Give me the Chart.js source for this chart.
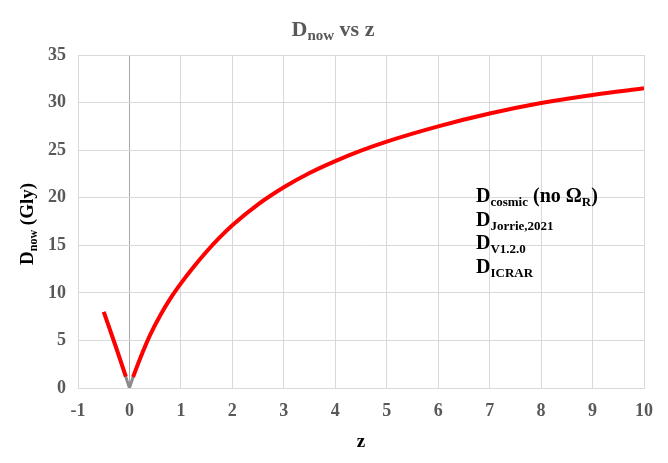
<!DOCTYPE html>
<html>
<head>
<meta charset="utf-8">
<script src="https://cdn.jsdelivr.net/npm/chart.js@4.4.1/dist/chart.umd.min.js"></script>
<style>
  html, body { margin: 0; padding: 0; background: #ffffff; }
  #wrap { width: 668px; height: 463px; position: relative; }
</style>
</head>
<body>
<div id="wrap"><canvas id="dnowChart" width="668" height="463"></canvas></div>
<script>
// Red curve: D_now (Gly) vs redshift z (null = small gap at the origin)
const redZ = [-0.5, -0.25, -0.07, 0, 0.07, 0.2, 0.4, 0.6, 0.8, 1, 1.25, 1.5, 1.75, 2, 2.5, 3, 3.5, 4, 4.5, 5, 6, 7, 8, 9, 10];
const redD = [8.0, 4.1, 1.2, null, 1.15, 3.0, 5.55, 7.65, 9.45, 11.0, 12.75, 14.35, 15.8, 17.1, 19.3, 21.1, 22.6, 23.85, 24.95, 25.9, 27.5, 28.85, 29.95, 30.8, 31.5];
// Grey curve underneath, only visible near z = 0
const greyZ = [-0.5, -0.25, 0, 0.07, 0.2];
const greyD = [8.0, 4.1, 0, 1.15, 3.0];
// Axis ticks
const xTicks = [-1, 0, 1, 2, 3, 4, 5, 6, 7, 8, 9, 10];
const yTicks = [0, 5, 10, 15, 20, 25, 30, 35];

const SERIF = '"Liberation Serif", "Times New Roman", serif';

function toPoints(xs, ys) {
    return xs.map(function(x, i) { return { x: x, y: ys[i] }; });
}

// draw text made of runs (normal + subscript)
function drawRuns(ctx, runs, x, y, align) {
    let total = 0;
    runs.forEach(function(r) {
        ctx.font = 'bold ' + r.size + 'px ' + SERIF;
        r.w = ctx.measureText(r.t).width;
        total += r.w;
    });
    let cx = align === 'center' ? x - total / 2 : x;
    runs.forEach(function(r) {
        ctx.font = 'bold ' + r.size + 'px ' + SERIF;
        ctx.fillText(r.t, cx, y + (r.dy || 0));
        cx += r.w;
    });
}

const textPlugin = {
    id: 'textPlugin',
    afterDraw: function(chart) {
        const ctx = chart.ctx;
        ctx.save();
        ctx.textAlign = 'left';
        ctx.textBaseline = 'alphabetic';

        // title
        ctx.fillStyle = '#595959';
        drawRuns(ctx, [
            { t: 'D', size: 22 },
            { t: 'now', size: 15, dy: 4 },
            { t: ' vs z', size: 22 }
        ], 333, 36, 'center');

        // y axis title, rotated
        ctx.fillStyle = '#000000';
        ctx.save();
        ctx.translate(33, 224);
        ctx.rotate(-Math.PI / 2);
        drawRuns(ctx, [
            { t: 'D', size: 19 },
            { t: 'now', size: 12, dy: 4 },
            { t: ' (Gly)', size: 19 }
        ], 0, 0, 'center');
        ctx.restore();

        // legend text box
        const lx = 476;
        const lines = [
            [{ t: 'D', size: 20 }, { t: 'cosmic', size: 13, dy: 4 }, { t: ' (no Ω', size: 20 }, { t: 'R', size: 13, dy: 4 }, { t: ')', size: 20 }],
            [{ t: 'D', size: 20 }, { t: 'Jorrie,2021', size: 13, dy: 4 }],
            [{ t: 'D', size: 20 }, { t: 'V1.2.0', size: 13, dy: 4 }],
            [{ t: 'D', size: 20 }, { t: 'ICRAR', size: 13, dy: 4 }]
        ];
        lines.forEach(function(runs, i) {
            drawRuns(ctx, runs, lx, 202 + i * 23.7, 'left');
        });
        ctx.restore();
    }
};

document.addEventListener('DOMContentLoaded', function() {
    const ctx = document.getElementById('dnowChart').getContext('2d');

    new Chart(ctx, {
        type: 'line',
        data: {
            datasets: [
                {
                    label: 'D_cosmic',
                    data: toPoints(redZ, redD),
                    borderColor: '#ff0000',
                    borderWidth: 4,
                    pointRadius: 0,
                    cubicInterpolationMode: 'monotone',
                    spanGaps: false,
                    order: 1
                },
                {
                    label: 'D_ICRAR',
                    data: toPoints(greyZ, greyD),
                    borderColor: '#8c8c8c',
                    borderWidth: 3,
                    pointRadius: 0,
                    order: 2
                }
            ]
        },
        options: {
            responsive: false,
            animation: false,
            layout: { padding: { top: 55, right: 24, left: 0, bottom: 0 } },
            plugins: {
                legend: { display: false },
                tooltip: { enabled: false },
                title: { display: false }
            },
            scales: {
                x: {
                    type: 'linear',
                    min: -1,
                    max: 10,
                    afterBuildTicks: function(scale) {
                        scale.ticks = xTicks.map(function(v) { return { value: v }; });
                    },
                    afterFit: function(scale) { scale.height = 75; },
                    grid: {
                        color: function(c) { return c.tick && c.tick.value === 0 ? '#a6a6a6' : '#d9d9d9'; },
                        lineWidth: 1,
                        drawTicks: false
                    },
                    border: { color: '#d9d9d9' },
                    ticks: {
                        color: '#595959',
                        padding: 13,
                        font: { family: SERIF, size: 18, weight: 'bold' }
                    },
                    title: {
                        display: true,
                        text: 'z',
                        color: '#000000',
                        padding: { top: 0, bottom: 10 },
                        font: { family: SERIF, size: 19, weight: 'bold' }
                    }
                },
                y: {
                    min: 0,
                    max: 35,
                    afterBuildTicks: function(scale) {
                        scale.ticks = yTicks.map(function(v) { return { value: v }; });
                    },
                    afterFit: function(scale) { scale.width = 78; },
                    grid: { color: '#d9d9d9', lineWidth: 1, drawTicks: false },
                    border: { color: '#d9d9d9' },
                    ticks: {
                        color: '#595959',
                        padding: 12,
                        font: { family: SERIF, size: 18, weight: 'bold' }
                    }
                }
            }
        },
        plugins: [textPlugin]
    });
});
</script>
</body>
</html>
